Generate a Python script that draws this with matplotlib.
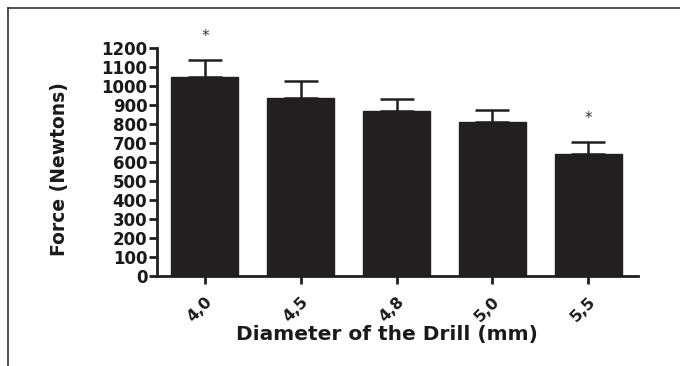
import numpy as np
import matplotlib
matplotlib.use("Agg")
import matplotlib.pyplot as plt
import matplotlib.transforms as mtransforms
from matplotlib.lines import Line2D

# drill diameters (mm) and mean force with SD (upper error only)
diameters = ["4,0", "4,5", "4,8", "5,0", "5,5"]
force_mean = [1049, 938, 868, 812, 644]
force_sd = [88, 88, 64, 60, 59]
significant = [True, False, False, False, True]

yticks = list(range(0, 1201, 100))

fig = plt.figure(figsize=(6.8, 3.66), dpi=100)
fig.patch.set_facecolor("white")
ax = fig.add_axes([0.2309, 0.2459, 0.7074, 0.623])

x = np.arange(len(diameters))
bar_color = "#231f20"
txt_color = "#1a1a1a"
ax.bar(x, force_mean, width=0.7, color=bar_color, edgecolor=bar_color, zorder=2)
ax.errorbar(x, force_mean, yerr=[np.zeros(len(force_sd)), force_sd], fmt="none",
            ecolor=bar_color, elinewidth=1.8, capsize=12, capthick=1.8, zorder=3)

for xi, m, s, sig in zip(x, force_mean, force_sd, significant):
    if sig:
        ax.annotate("*", (xi, m + s), textcoords="offset points", xytext=(0, 17),
                    ha="center", va="center", fontsize=11, color="#333333")

ax.set_xlim(-0.5, 4.52)
ax.set_ylim(0, 1200)
ax.set_yticks(yticks)
ax.set_yticklabels([str(t) for t in yticks], fontsize=12, fontweight="bold",
                   color=txt_color, family="DejaVu Sans")
ax.set_xticks(x)
ax.set_xticklabels(diameters, rotation=45, ha="right", rotation_mode="anchor",
                   fontsize=11.5, fontweight="bold", color=txt_color, family="DejaVu Sans")
shift = mtransforms.ScaledTranslation(-5 / 100, 2 / 100, fig.dpi_scale_trans)
for lbl in ax.get_xticklabels():
    lbl.set_transform(lbl.get_transform() + shift)

ax.tick_params(axis="both", direction="out", length=6, width=2, color=bar_color)
ax.tick_params(axis="y", pad=1)
ax.tick_params(axis="x", pad=7)

ax.spines["top"].set_visible(False)
ax.spines["right"].set_visible(False)
for sp in ("left", "bottom"):
    ax.spines[sp].set_linewidth(2)
    ax.spines[sp].set_color(bar_color)

ax.set_ylabel("Force (Newtons)", fontsize=13.5, fontweight="bold", color=txt_color,
              family="DejaVu Sans")
ax.set_xlabel("Diameter of the Drill (mm)", fontsize=14.5, fontweight="bold",
              color=txt_color, family="DejaVu Sans")
ax.yaxis.set_label_coords(-0.183, 0.47)
ax.xaxis.set_label_coords(0.478, -0.215)

# outer frame (top and left only, as in the figure)
fig.add_artist(Line2D([8 / 680, 8 / 680], [0, 1 - 8 / 366], transform=fig.transFigure,
                      color="#333333", linewidth=1.2))
fig.add_artist(Line2D([8 / 680, 1], [1 - 8 / 366, 1 - 8 / 366], transform=fig.transFigure,
                      color="#333333", linewidth=1.2))

fig.savefig("out.png", dpi=100, facecolor="white")
